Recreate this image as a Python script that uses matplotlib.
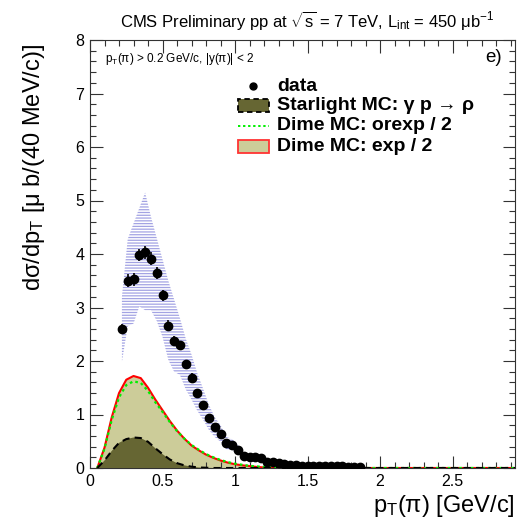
import matplotlib
matplotlib.use("Agg")
import matplotlib.pyplot as plt
from matplotlib.patches import Rectangle
from matplotlib.lines import Line2D
from matplotlib.ticker import MultipleLocator, FormatStrFormatter

plt.rcParams['font.family'] = ['Liberation Sans', 'DejaVu Sans']
plt.rcParams['mathtext.fontset'] = 'custom'
plt.rcParams['mathtext.rm'] = 'Liberation Sans'
plt.rcParams['mathtext.it'] = 'Liberation Sans:italic'
plt.rcParams['mathtext.bf'] = 'Liberation Sans:bold'
plt.rcParams['hatch.linewidth'] = 0.9

# ---- measured pion pT spectrum (40 MeV/c bins) ----
pt_bins = [0.22, 0.26, 0.30, 0.34, 0.38, 0.42, 0.46, 0.50, 0.54, 0.58,
           0.62, 0.66, 0.70, 0.74, 0.78, 0.82, 0.86, 0.90, 0.94, 0.98,
           1.02, 1.06, 1.10, 1.14, 1.18, 1.22, 1.26, 1.30, 1.34, 1.38,
           1.42, 1.46, 1.50, 1.54, 1.58, 1.62, 1.66, 1.70, 1.74, 1.78,
           1.82, 1.86]
xsec = [2.60, 3.50, 3.53, 3.98, 4.03, 3.91, 3.64, 3.23, 2.66, 2.38,
        2.29, 1.94, 1.69, 1.41, 1.18, 0.94, 0.76, 0.64, 0.46, 0.43,
        0.34, 0.22, 0.20, 0.21, 0.19, 0.11, 0.11, 0.09, 0.07, 0.06,
        0.05, 0.04, 0.04, 0.03, 0.03, 0.03, 0.03, 0.03, 0.03, 0.02,
        0.02, 0.02]
xsec_stat = [0.10, 0.12, 0.12, 0.12, 0.12, 0.12, 0.11, 0.10, 0.10, 0.09,
             0.09, 0.08, 0.08, 0.07, 0.06, 0.06, 0.05, 0.05, 0.04, 0.04,
             0.04, 0.03, 0.03, 0.03, 0.03, 0.02, 0.02, 0.02, 0.02, 0.02,
             0.01, 0.01, 0.01, 0.01, 0.01, 0.01, 0.01, 0.01, 0.01, 0.01,
             0.01, 0.01]
syst_hi = [3.20, 4.28, 4.57, 4.86, 5.15, 4.70, 4.30, 3.90, 3.50, 3.15,
           2.80, 2.42, 2.12, 1.77, 1.48, 1.18, 0.95, 0.80, 0.58, 0.54,
           0.43, 0.28, 0.25, 0.26, 0.24, 0.14, 0.14, 0.11, 0.09, 0.075,
           0.063, 0.05, 0.05, 0.04, 0.04, 0.04, 0.04, 0.04, 0.04, 0.025,
           0.025, 0.025]
syst_lo = [1.98, 2.65, 2.70, 3.02, 2.95, 2.95, 2.75, 2.45, 2.02, 1.80,
           1.74, 1.47, 1.28, 1.07, 0.90, 0.71, 0.58, 0.49, 0.35, 0.33,
           0.26, 0.17, 0.15, 0.16, 0.14, 0.08, 0.08, 0.07, 0.05, 0.045,
           0.038, 0.03, 0.03, 0.023, 0.023, 0.023, 0.023, 0.023, 0.023, 0.015,
           0.015, 0.015]

# ---- Monte Carlo predictions ----
mc_pt = [0.05, 0.10, 0.15, 0.20, 0.25, 0.30, 0.35, 0.40, 0.45, 0.50,
         0.55, 0.60, 0.65, 0.70, 0.75, 0.80, 0.85, 0.90, 0.95, 1.00,
         1.05, 1.10, 1.15, 1.20, 1.25, 1.30, 1.35, 2.95]
starlight = [0.00, 0.14, 0.32, 0.47, 0.54, 0.57, 0.56, 0.49, 0.37, 0.26,
             0.16, 0.09, 0.05, 0.025, 0.01, 0.005, 0.0, 0.0, 0.0, 0.0,
             0.0, 0.0, 0.0, 0.0, 0.0, 0.0, 0.0, 0.0]
dime_exp = [0.00, 0.38, 0.95, 1.40, 1.65, 1.72, 1.68, 1.50, 1.28, 1.08,
            0.88, 0.70, 0.55, 0.42, 0.33, 0.25, 0.19, 0.14, 0.10, 0.07,
            0.05, 0.035, 0.02, 0.01, 0.005, 0.0, 0.0, 0.0]
dime_orexp = [0.00, 0.36, 0.90, 1.32, 1.55, 1.62, 1.59, 1.44, 1.23, 1.05,
              0.86, 0.69, 0.55, 0.43, 0.34, 0.26, 0.20, 0.15, 0.11, 0.08,
              0.06, 0.04, 0.03, 0.02, 0.01, 0.005, 0.0, 0.0]

W, H = 517, 522
fig = plt.figure(figsize=(W / 100, H / 100), dpi=100)
ax = fig.add_axes([90 / W, 1 - 468 / H, (515 - 90) / W, (468 - 40) / H])

khaki = '#cccc99'
olive = '#666633'

ax.fill_between(mc_pt, 0, dime_exp, facecolor=khaki, edgecolor='none', zorder=1)
ax.plot(mc_pt, dime_exp, color='#ff0000', lw=1.5, zorder=2)
ax.plot(mc_pt, dime_orexp, color='#00ee00', lw=1.6, ls=(0, (1.2, 1.4)), zorder=3)
ax.fill_between(mc_pt, 0, starlight, facecolor=olive, edgecolor='none', zorder=3)
ax.plot(mc_pt, starlight, color='black', lw=1.5, ls=(0, (3.5, 2.5)), zorder=4)

# systematic band, hatched
ax.fill_between(pt_bins, syst_lo, syst_hi, facecolor='none',
                edgecolor=(0.4, 0.4, 0.82, 0.6), hatch='------',
                linewidth=0, zorder=5)

ax.errorbar(pt_bins, xsec, yerr=xsec_stat, fmt='o', color='black', ms=6,
            elinewidth=1.2, capsize=0, zorder=6)

ax.set_xlim(0, 2.93)
ax.set_ylim(0, 8)
ax.xaxis.set_major_locator(MultipleLocator(0.5))
ax.xaxis.set_minor_locator(MultipleLocator(0.1))
ax.yaxis.set_major_locator(MultipleLocator(1))
ax.yaxis.set_minor_locator(MultipleLocator(0.2))
ax.xaxis.set_major_formatter(FormatStrFormatter('%g'))
ax.yaxis.set_major_formatter(FormatStrFormatter('%g'))
ax.tick_params(which='both', direction='in', top=True, right=True,
               labelsize=11.5, color='#333333', width=0.8)
ax.tick_params(which='major', length=9, pad=4)
ax.tick_params(which='minor', length=4.5)
for s in ax.spines.values():
    s.set_linewidth(0.8)
    s.set_color('#333333')

def px(x, y):
    return x / W, 1 - y / H

# axis titles
fig.text(*px(515, 512), r'p$_{\mathrm{T}}$(π) [GeV/c]', fontsize=17,
         ha='right', va='baseline')
fig.text(*px(34, 168), r'dσ/dp$_{\mathrm{T}}$ [μ b/(40 MeV/c)]', fontsize=17,
         rotation=90, ha='center', va='center')

# header and cut summary
fig.text(*px(307, 21),
         r'CMS Preliminary pp at $\sqrt{\mathrm{s}}$ = 7 TeV, L$_{\mathrm{int}}$ = 450 μb$^{\mathrm{-1}}$',
         fontsize=12, ha='center', va='center')
fig.text(*px(105, 62), r'p$_{\mathrm{T}}$(π) > 0.2 GeV/c, |y(π)| < 2',
         fontsize=8.5, ha='left', va='baseline')
fig.text(*px(502, 62), 'e)', fontsize=13.5, ha='right', va='baseline')

# legend
rows = [86, 106, 126, 147]
labels = ['data', 'Starlight MC: γ p → ρ', 'Dime MC: orexp / 2', 'Dime MC: exp / 2']
for yy, lab in zip(rows, labels):
    fig.text(*px(277, yy), lab, fontsize=14, fontweight='bold',
             ha='left', va='center')
fig.add_artist(Line2D([253 / W], [1 - rows[0] / H], marker='o', color='black',
                      ms=5, transform=fig.transFigure))
bx0, bw, bh = 238, 31, 13
fig.add_artist(Rectangle(px(bx0, rows[1] + bh / 2), bw / W, bh / H,
                         facecolor=olive, edgecolor='black', lw=1.3,
                         ls=(0, (3, 2)), transform=fig.transFigure))
fig.add_artist(Line2D([bx0 / W, (bx0 + bw) / W], [1 - rows[2] / H] * 2,
                      color='#00ee00', lw=1.4, ls=(0, (1.2, 1.4)),
                      transform=fig.transFigure))
fig.add_artist(Rectangle(px(bx0, rows[3] + bh / 2), bw / W, bh / H,
                         facecolor=khaki, edgecolor='#ff3333', lw=1.3,
                         transform=fig.transFigure))

fig.savefig('out.png', dpi=100)
